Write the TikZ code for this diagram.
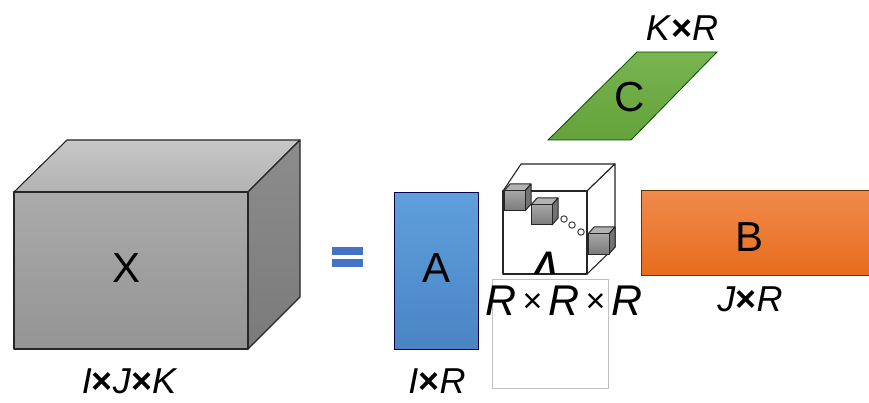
\documentclass[tikz,border=0pt]{standalone}
\usepackage{fontspec}
\setmainfont{Liberation Sans}
\begin{document}
\begin{tikzpicture}[x=1pt,y=-1pt,
  edge/.style={draw=black!85,line width=1.1pt,line join=round},
  lbl/.style={font=\fontsize{36}{36}\selectfont\itshape,inner sep=0pt},
  big/.style={font=\fontsize{42}{42}\selectfont,inner sep=0pt},
  minicube/.style={draw=black!85,line width=1pt,line join=round}]
\useasboundingbox (0,0) rectangle (869,403);
% ---- X tensor
\draw[edge,top color=black!22,bottom color=black!30] (14,192) -- (67,140) -- (300,140) -- (248,192) -- cycle;
\draw[edge,top color=black!45,bottom color=black!52] (248,192) -- (300,140) -- (300,297) -- (248,349) -- cycle;
\draw[edge,top color=black!33,bottom color=black!42] (14,192) rectangle (248,349);
\node[big] (X) at (127,268) {X};
\node[lbl] (ijk) at (129,381) {I\textup{\textbf{×}}J\textup{\textbf{×}}K};
% ---- equals
\definecolor{eqc}{HTML}{4472C4}
\fill[eqc] (332,247) rectangle (363,255);
\fill[eqc] (332,259) rectangle (363,267);
% ---- A
\definecolor{blA}{HTML}{5F9FDC}
\definecolor{blB}{HTML}{4A84C4}
\draw[draw=black!70!blue,line width=1pt,top color=blA,bottom color=blB] (394,193) rectangle (478,349);
\node[big] (A) at (436,268) {A};
\node[lbl] (ir) at (437,381) {I\textup{\textbf{×}}R};
% ---- C
\definecolor{grA}{HTML}{78B450}
\definecolor{grB}{HTML}{64A23A}
\draw[draw=green!30!black,line width=0.8pt,top color=grA,bottom color=grB] (637,52) -- (717,52) -- (631,140) -- (548,140) -- cycle;
\node[big] (C) at (630,97) {C};
\node[lbl] (kr) at (682,28) {K\textup{\textbf{×}}R};
% ---- B
\definecolor{orA}{HTML}{F08A4C}
\definecolor{orB}{HTML}{E86C1C}
\draw[draw=black!60!orange,line width=1pt,top color=orA,bottom color=orB] (641,191) rectangle (875,275);
\node[big] (B) at (749,237) {B};
\node[lbl] (jr) at (750,299) {J\textup{\textbf{×}}R};
% ---- gray frame
\draw[black!25,line width=0.6pt] (492,279) rectangle (608,388);
% ---- Lambda cube
\draw[edge,fill=white] (503,191) -- (521,164) -- (615,164) -- (587,191) -- cycle;
\draw[edge,fill=white] (587,191) -- (615,164) -- (615,247) -- (587,274) -- cycle;
\draw[edge,fill=white] (503,191) rectangle (587,274);
\begin{scope}
  \clip (503,191) rectangle (587,273);
  \node[font=\fontsize{34}{34}\selectfont\bfseries\itshape,inner sep=0pt,anchor=north] (L) at (546,252) {Λ};
\end{scope}
% small cubes
\foreach \x/\y in {504/191,531/205,588/234}{
  \draw[minicube,fill=black!30] (\x,\y) -- (\x+6,\y-7) -- (\x+27,\y-7) -- (\x+21,\y) -- cycle;
  \draw[minicube,fill=black!55] (\x+21,\y) -- (\x+27,\y-7) -- (\x+27,\y+13) -- (\x+21,\y+20) -- cycle;
  \draw[minicube,top color=black!35,bottom color=black!52] (\x,\y) rectangle (\x+21,\y+20);
}
\foreach \x/\y in {564/219,572/225,581/232}
  \draw[black!75,line width=1pt,fill=white] (\x,\y) circle (3.2);
\node[font=\fontsize{43}{43}\selectfont,inner sep=0pt] (rrr) at (564,301) {\textit{R}\hspace{6pt}\raisebox{3pt}{\fontsize{34}{34}\selectfont ×}\hspace{6pt}\textit{R}\hspace{6pt}\raisebox{3pt}{\fontsize{34}{34}\selectfont ×}\hspace{6pt}\textit{R}};
\end{tikzpicture}
\end{document}
